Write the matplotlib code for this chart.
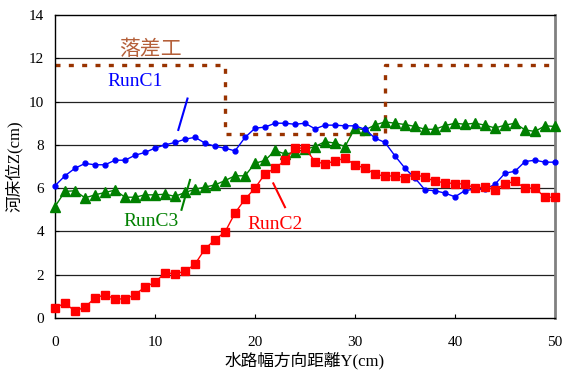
import numpy as np
import matplotlib
matplotlib.use("Agg")
import matplotlib.pyplot as plt

plt.rcParams['font.family'] = ['Liberation Serif', 'Noto Sans CJK JP']

# channel width position Y (cm), one reading every cm
y_pos = list(range(51))

run_c1 = [6.11, 6.57, 6.92, 7.14, 7.08, 7.08, 7.29, 7.29, 7.52, 7.65,
          7.85, 8.00, 8.11, 8.26, 8.35, 8.08, 7.93, 7.85, 7.72, 8.34,
          8.77, 8.82, 9.00, 9.00, 8.95, 9.00, 8.74, 8.91, 8.91, 8.88,
          8.88, 8.72, 8.31, 8.11, 7.49, 6.92, 6.46, 5.92, 5.88, 5.77,
          5.60, 5.89, 5.95, 5.95, 6.18, 6.69, 6.78, 7.23, 7.29, 7.20,
          7.20]

run_c2 = [0.46, 0.69, 0.31, 0.51, 0.92, 1.08, 0.88, 0.88, 1.08, 1.43,
          1.65, 2.08, 2.05, 2.15, 2.49, 3.19, 3.62, 3.97, 4.85, 5.49,
          6.00, 6.66, 6.92, 7.28, 7.85, 7.85, 7.23, 7.12, 7.26, 7.38,
          7.08, 6.92, 6.66, 6.54, 6.58, 6.49, 6.62, 6.51, 6.31, 6.26,
          6.20, 6.20, 6.00, 6.05, 5.92, 6.20, 6.31, 6.00, 6.00, 5.58,
          5.58]

run_c3 = [5.15, 5.85, 5.88, 5.55, 5.69, 5.80, 5.91, 5.58, 5.58, 5.69,
          5.69, 5.72, 5.62, 5.80, 5.95, 6.05, 6.15, 6.35, 6.57, 6.57,
          7.15, 7.28, 7.74, 7.58, 7.65, 7.80, 7.92, 8.15, 8.08, 7.92,
          8.77, 8.69, 8.92, 9.06, 9.00, 8.94, 8.85, 8.72, 8.72, 8.89,
          9.00, 8.95, 9.00, 8.91, 8.78, 8.91, 9.00, 8.69, 8.62, 8.88,
          8.85]

# drop structure outline
drop_x = [0, 17, 17, 33, 33, 50]
drop_z = [11.7, 11.7, 8.5, 8.5, 11.7, 11.7]

fig = plt.figure(figsize=(5.63, 3.70), dpi=100)
ax = fig.add_axes([55/563, 1 - 318/370, 500/563, 303/370])

for yv in range(2, 14, 2):
    ax.axhline(yv, color='#222222', lw=0.9, zorder=1)

ax.plot(drop_x, drop_z, color='#993300', lw=2.4, dashes=(1.5, 2.5),
        zorder=2, clip_on=False)

ax.plot(y_pos, run_c1, color='#0000ff', lw=1.0, marker='o', ms=3.5,
        zorder=4, clip_on=False)
ax.plot(y_pos, run_c3, color='#008000', lw=1.0, marker='^', ms=6.5,
        zorder=3, clip_on=False)
ax.plot(y_pos, run_c2, color='#ff0000', lw=1.0, marker='s', ms=5.5,
        zorder=5, clip_on=False)

# labels with pointer strokes
ax.text(9.55, 12.45, '落差工', color='#b5603a', fontsize=15,
        ha='center', va='center', family=['Noto Sans CJK JP'])
ax.text(8.0, 10.95, 'RunC1', color='#0000ff', fontsize=14, ha='center', va='center')
ax.plot([12.33, 13.25], [8.69, 10.14], color='#0000ff', lw=1.5)
ax.text(9.65, 4.46, 'RunC3', color='#008000', fontsize=14, ha='center', va='center')
ax.plot([12.65, 13.5], [5.0, 6.38], color='#008000', lw=1.5)
ax.text(22.0, 4.30, 'RunC2', color='#ff0000', fontsize=14, ha='center', va='center')
ax.plot([21.83, 23.0], [6.22, 5.12], color='#ff0000', lw=1.5)

ax.set_xlim(0, 50)
ax.set_ylim(0, 14)
ax.set_xticks(range(0, 51, 10))
ax.set_yticks(range(0, 15, 2))
ax.tick_params(direction='in', length=3, labelsize=11, colors='black')
ax.tick_params(axis='x', pad=13)
ax.tick_params(axis='y', pad=8)

for s in ['left', 'bottom', 'top']:
    ax.spines[s].set_color('black')
    ax.spines[s].set_linewidth(1.0)
ax.spines['right'].set_color('#808080')
ax.spines['right'].set_linewidth(2.0)

ax.set_xlabel('水路幅方向距離Y(cm)', fontsize=12, labelpad=2)
ax.set_ylabel('河床位Z(cm)', fontsize=12, labelpad=4)

fig.savefig('out.png', dpi=100)
